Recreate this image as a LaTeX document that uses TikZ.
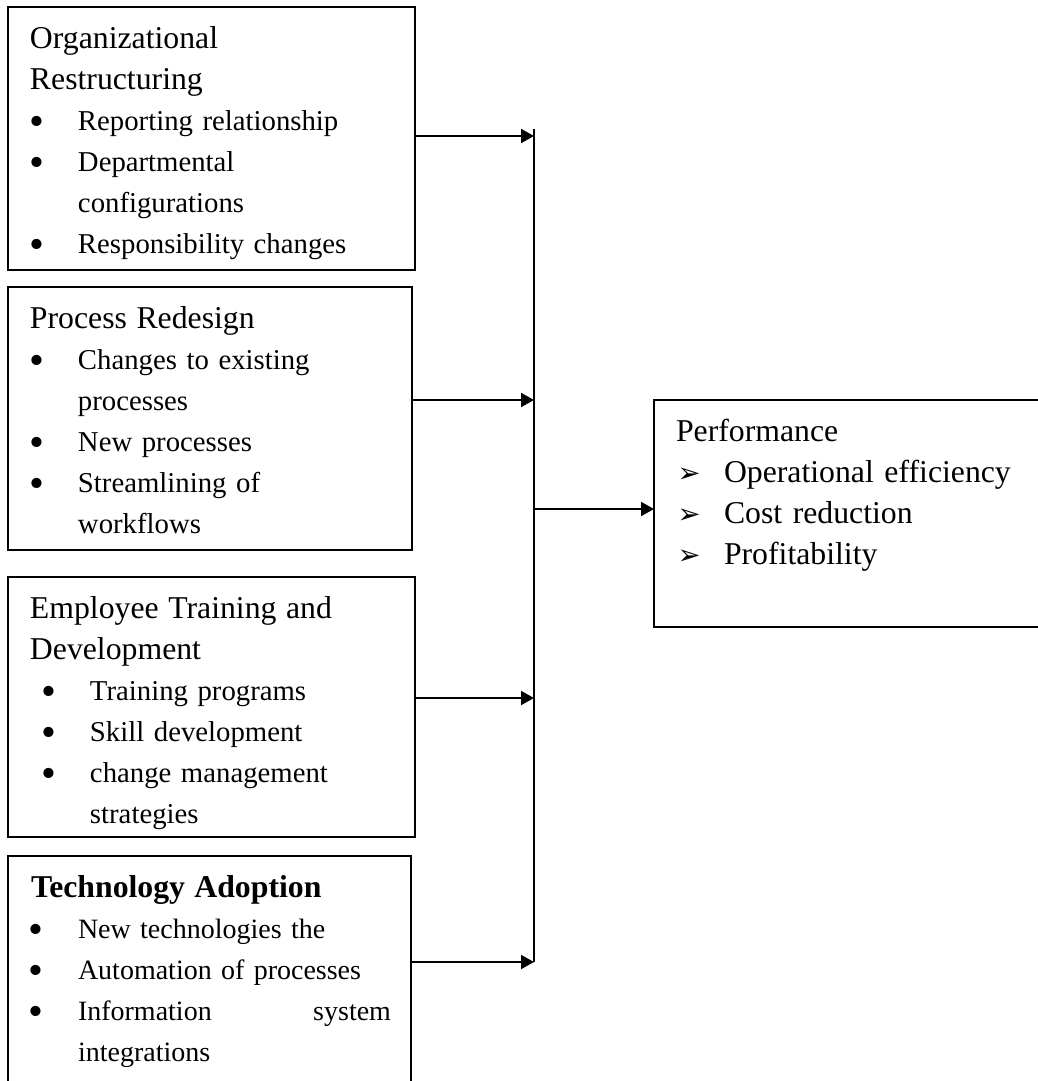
\documentclass[tikz,border=0pt]{standalone}
\usepackage{fontspec}
\setmainfont{Liberation Serif}
\newfontfamily\symfont{DejaVu Sans}
\usetikzlibrary{arrows.meta}

\newcommand{\ttl}[1]{{\fontsize{12.7}{16.4}\selectfont #1}}
\newcommand{\bdot}{\raisebox{-2.3pt}{\fontsize{17}{17}\selectfont\textbullet}}
\newcommand{\bitem}[3]{\makebox[#2][l]{\hspace*{#1}\makebox[0pt]{\bdot}}#3}
\newcommand{\bcont}[2]{\hspace*{#1}#2}
\newcommand{\aitem}[1]{\makebox[19.2pt][l]{\hspace*{0.6pt}{\symfont\fontsize{11}{11}\selectfont ➢}}#1}

\begin{document}
\begin{tikzpicture}[x=0.4pt, y=-0.4pt, line width=0.8pt,
    font=\fontsize{11.5}{16.4}\selectfont]
    \tikzset{box node/.style={draw, rectangle, inner sep=0pt, outer sep=0pt, anchor=north west},
      txt node/.style={anchor=north west, inner sep=0pt, text width=150pt, align=left},
      arr/.style={-{Triangle[length=5.2pt, width=5.6pt]}}}
    \useasboundingbox (0,0) rectangle (1038,1081);

    % Left column - the four boxes
    \node[box node, minimum width=162.8pt, minimum height=105.2pt] (org) at (8,7) {};
    \node[box node, minimum width=161.6pt, minimum height=105.2pt] (proc) at (8,287) {};
    \node[box node, minimum width=162.8pt, minimum height=104pt] (emp) at (8,577) {};
    \node[box node, minimum width=161.2pt, minimum height=95.6pt] (tech) at (8,856) {};

    % Right - outcome box
    \node[box node, minimum width=158.4pt, minimum height=90.8pt] (perf) at (654,400) {};

    % Box texts
    \node[txt node] (org_txt) at (29,18.3) {\strut\ttl{Organizational}\\
      \ttl{Restructuring}\\
      \bitem{2.8pt}{19.2pt}{Reporting relationship}\\
      \bitem{2.8pt}{19.2pt}{Departmental}\\
      \bcont{19.2pt}{configurations}\\
      \bitem{2.8pt}{19.2pt}{Responsibility changes}};
    \node[txt node] (proc_txt) at (29,298.3) {\strut\ttl{Process Redesign}\\
      \bitem{2.8pt}{19.2pt}{Changes to existing}\\
      \bcont{19.2pt}{processes}\\
      \bitem{2.8pt}{19.2pt}{New processes}\\
      \bitem{2.8pt}{19.2pt}{Streamlining of}\\
      \bcont{19.2pt}{workflows}};
    \node[txt node] (emp_txt) at (29,588.3) {\strut\ttl{Employee Training and}\\
      \ttl{Development}\\
      \bitem{7.6pt}{24pt}{Training programs}\\
      \bitem{7.6pt}{24pt}{Skill development}\\
      \bitem{7.6pt}{24pt}{change management}\\
      \bcont{24pt}{strategies}};
    \node[txt node, font=\fontsize{11.2}{16.4}\selectfont] (tech_txt) at (30,867.3)
      {\strut\ttl{\textbf{Technology Adoption}}\\
      \bitem{2pt}{18.8pt}{New technologies the}\\
      \bitem{2pt}{18.8pt}{Automation of processes}\\
      \bitem{2pt}{18.8pt}{\makebox[125.2pt][l]{Information\hfill system}}\\
      \bcont{18.8pt}{integrations}};
    \node[txt node, font=\fontsize{12.7}{16.4}\selectfont] (perf_txt) at (675,411.3)
      {\strut Performance\\
      \aitem{Operational efficiency}\\
      \aitem{Cost reduction}\\
      \aitem{Profitability}};

    % Collecting line
    \coordinate (btop) at (534,129);
    \coordinate (j1) at (534,136);
    \coordinate (j2) at (534,400);
    \coordinate (jm) at (534,509);
    \coordinate (j3) at (534,698);
    \coordinate (j4) at (534,962);
    \draw (btop) -- (j4);

    % Arrows into the line and out to the outcome
    \draw[arr] (org.east |- j1) -- (j1);
    \draw[arr] (proc.east |- j2) -- (j2);
    \draw[arr] (emp.east |- j3) -- (j3);
    \draw[arr] (tech.east |- j4) -- (j4);
    \draw[arr] (jm) -- (perf.west |- jm);
\end{tikzpicture}
\end{document}
